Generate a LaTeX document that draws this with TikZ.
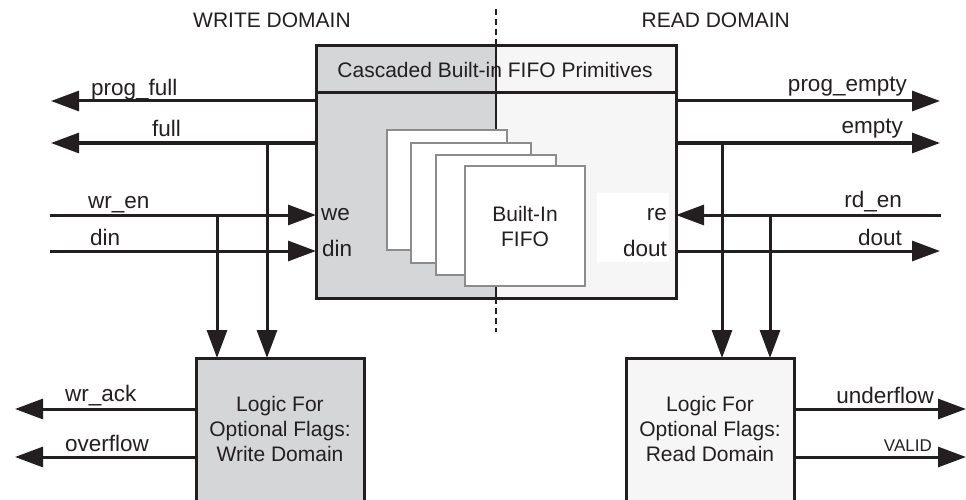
\documentclass[tikz,border=0pt]{standalone}
\usepackage{fontspec}
\setmainfont{Liberation Sans}
\usetikzlibrary{arrows.meta}
\definecolor{wgray}{HTML}{D5D6D8}
\definecolor{rgray}{HTML}{F6F6F6}
\definecolor{ink}{HTML}{231F20}
\definecolor{fgray}{HTML}{8C8C8C}
\begin{document}
\begin{tikzpicture}[x=1pt,y=-1pt,
  sig/.style={line width=3pt, draw=ink, -{Triangle[length=28pt,width=20pt]}},
  lbl/.style={font=\fontsize{22.5}{27}\selectfont, text=ink, inner sep=0pt},
  txt/.style={font=\fontsize{21}{25}\selectfont, text=ink, inner sep=0pt, align=center},
  fbox/.style={draw=fgray, line width=2.5pt, fill=white, minimum width=120pt, minimum height=120pt, anchor=north west, inner sep=0pt, outer sep=0pt, txt},
  logic/.style={draw=ink, line width=3pt, anchor=north west, minimum width=168pt, minimum height=170pt, inner sep=0pt, outer sep=0pt}]
\clip (0,0) rectangle (966,500);
% domain labels
\node[txt, anchor=base west] (wd) at (193,28) {WRITE DOMAIN};
\node[txt, anchor=base east] (rd) at (790,28) {READ DOMAIN};
% main box
\fill[wgray] (316,46) rectangle (496,298);
\fill[rgray] (496,46) rectangle (676,298);
\fill[white] (597,193) rectangle (669,262);
\node[draw=ink, line width=3pt, minimum width=360pt, minimum height=252pt, anchor=north west, outer sep=0pt, inner sep=0pt] (main) at (316,46) {};
\draw[ink, line width=3pt] (main.west |- 0,93) -- (main.east |- 0,93);
\draw[ink, line width=2.5pt] (main.north -| 496,0) -- (main.south -| 496,0);
\draw[ink, line width=2pt, dash pattern=on 6pt off 4pt] (496,9) -- (main.north -| 496,0);
\draw[ink, line width=2pt, dash pattern=on 6pt off 4pt] (main.south -| 496,0) -- (496,332);
\node[txt, anchor=base] (title) at (495,78) {Cascaded Built-in FIFO Primitives};
% stacked FIFOs
\node[fbox] (f1) at (387,130) {};
\node[fbox] (f2) at (411,143) {};
\node[fbox] (f3) at (436,155) {};
\node[fbox] (f4) at (465,166) {Built-In\\FIFO};
% port labels
\node[lbl, anchor=base west] (we) at (321,220) {we};
\node[lbl, anchor=base west] (dinp) at (322,256) {din};
\node[lbl, anchor=base east] (re) at (667,220) {re};
\node[lbl, anchor=base east] (doutp) at (667,256) {dout};
% logic boxes
\node[logic, fill=wgray] (wlog) at (196,358) {};
\node[logic, fill=rgray] (rlog) at (626,358) {};
\node[txt] (wlogt) at (280,429) {Logic For\\Optional Flags:\\Write Domain};
\node[txt] (rlogt) at (710,429) {Logic For\\Optional Flags:\\Read Domain};
% free ends
\coordinate (pfL) at (51,101);
\coordinate (fL) at (51,143);
\coordinate (weL) at (50,215);
\coordinate (dinL) at (50,251);
\coordinate (peR) at (940,101);
\coordinate (eR) at (940,143);
\coordinate (reR) at (941,215);
\coordinate (doR) at (940,251);
\coordinate (ackL) at (15,409);
\coordinate (ovL) at (15,457);
\coordinate (unR) at (966,409);
\coordinate (vaR) at (966,457);
% write side
\draw[sig] (main.west |- pfL) -- (pfL);
\draw[sig] (main.west |- fL) -- (fL);
\draw[sig] (weL) -- (main.west |- weL);
\draw[sig] (dinL) -- (main.west |- dinL);
\coordinate (j1) at (217,215);
\coordinate (j2) at (267,143);
\draw[sig] (j1) -- (j1 |- wlog.north);
\draw[sig] (j2) -- (j2 |- wlog.north);
\draw[sig] (wlog.west |- ackL) -- (ackL);
\draw[sig] (wlog.west |- ovL) -- (ovL);
% read side
\draw[sig] (main.east |- peR) -- (peR);
\draw[sig] (main.east |- eR) -- (eR);
\draw[sig] (reR) -- (main.east |- reR);
\draw[sig] (main.east |- doR) -- (doR);
\coordinate (j3) at (722,143);
\coordinate (j4) at (770,215);
\draw[sig] (j3) -- (j3 |- rlog.north);
\draw[sig] (j4) -- (j4 |- rlog.north);
\draw[sig] (rlog.east |- unR) -- (unR);
\draw[sig] (rlog.east |- vaR) -- (vaR);
% signal labels
\node[lbl, anchor=base west] (lpf) at (91,96) {prog\_full};
\node[lbl, anchor=base west] (lf) at (152,137) {full};
\node[lbl, anchor=base west] (lwe) at (88,208) {wr\_en};
\node[lbl, anchor=base west] (ldin) at (90,245) {din};
\node[lbl, anchor=base east] (lpe) at (907,92) {prog\_empty};
\node[lbl, anchor=base east] (le) at (903,134) {empty};
\node[lbl, anchor=base east] (lre) at (902,207) {rd\_en};
\node[lbl, anchor=base east] (ldo) at (902,245) {dout};
\node[lbl, anchor=base west] (lack) at (65,401) {wr\_ack};
\node[lbl, anchor=base west] (lov) at (65,451) {overflow};
\node[lbl, anchor=base east] (lun) at (934,403) {underflow};
\node[lbl, anchor=base east, font=\fontsize{17}{20}\selectfont] (lva) at (932,451) {VALID};
\end{tikzpicture}
\end{document}
